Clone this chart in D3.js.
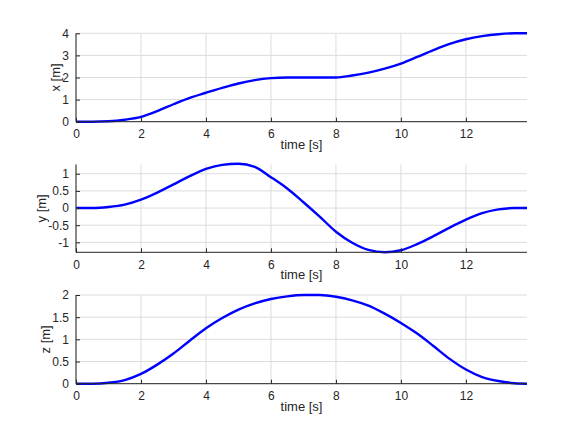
<!DOCTYPE html>
<html>
<head>
<meta charset="utf-8">
<script src="https://cdn.jsdelivr.net/npm/d3@7"></script>
<style>
  body { margin: 0; background: #fff; }
  svg text { font-family: "Liberation Sans", Arial, sans-serif; fill: #262626; }
</style>
</head>
<body>
<svg id="fig" width="583" height="437"></svg>
<script>
// time samples [s]
var time = [0, 0.5, 1, 1.5, 2, 2.5, 3, 3.5, 4, 4.5, 5, 5.5, 6, 6.5, 7, 7.5, 8, 8.5, 9, 9.5, 10, 10.5, 11, 11.5, 12, 12.5, 13, 13.5, 13.88];

// positions [m]
var xPos = [0, 0, 0.02, 0.09, 0.22, 0.48, 0.79, 1.08, 1.31, 1.53, 1.73, 1.88, 1.97, 2.0, 2.0, 2.0, 2.0, 2.09, 2.22, 2.4, 2.63, 2.93, 3.24, 3.52, 3.73, 3.87, 3.96, 4.0, 4.0];
var yPos = [0, 0, 0.03, 0.1, 0.245, 0.45, 0.69, 0.93, 1.14, 1.26, 1.29, 1.2, 0.9, 0.57, 0.17, -0.25, -0.69, -1.01, -1.22, -1.29, -1.23, -1.05, -0.82, -0.57, -0.34, -0.15, -0.04, 0, 0];
var zPos = [0, 0, 0.02, 0.08, 0.22, 0.43, 0.68, 0.97, 1.25, 1.48, 1.67, 1.81, 1.91, 1.97, 2.0, 2.0, 1.96, 1.88, 1.76, 1.58, 1.37, 1.13, 0.85, 0.56, 0.32, 0.15, 0.06, 0.01, 0];

var timeTicks = [0, 2, 4, 6, 8, 10, 12];
var xTicks = [0, 1, 2, 3, 4];
var yTicks = [-1, -0.5, 0, 0.5, 1];
var zTicks = [0, 0.5, 1, 1.5, 2];

var svg = d3.select('#fig');
var left = 76, right = 527;

var panels = [
    { label: 'x [m]', values: xPos, domain: [0, 4], ticks: xTicks, top: 33.3, bottom: 121.7 },
    { label: 'y [m]', values: yPos, domain: [-1.29, 1.27], ticks: yTicks, top: 164.5, bottom: 252.3 },
    { label: 'z [m]', values: zPos, domain: [0, 2], ticks: zTicks, top: 295, bottom: 383.7 }
];

var xScale = d3.scaleLinear().domain([0, 13.88]).range([left, right]);

panels.forEach(function (p) {
    var y = d3.scaleLinear().domain(p.domain).range([p.bottom, p.top]);
    var g = svg.append('g');

    // grid
    g.append('g').selectAll('line').data(timeTicks).enter().append('line')
        .attr('x1', d => xScale(d)).attr('x2', d => xScale(d))
        .attr('y1', p.top).attr('y2', p.bottom)
        .attr('stroke', '#dcdcdc').attr('stroke-width', 1);
    g.append('g').selectAll('line').data(p.ticks).enter().append('line')
        .attr('x1', left).attr('x2', right)
        .attr('y1', d => y(d)).attr('y2', d => y(d))
        .attr('stroke', '#dcdcdc').attr('stroke-width', 1);

    // curve
    var line = d3.line()
        .x((d, i) => xScale(time[i]))
        .y(d => y(d))
        .curve(d3.curveMonotoneX);
    g.append('path')
        .datum(p.values)
        .attr('d', line)
        .attr('fill', 'none')
        .attr('stroke', '#0000ff')
        .attr('stroke-width', 2.4);

    // axes (inward ticks, no box on top/right)
    var ax = g.append('g')
        .attr('transform', 'translate(0,' + p.bottom + ')')
        .call(d3.axisBottom(xScale).tickValues(timeTicks).tickSize(-4).tickPadding(8).tickFormat(d3.format('d')));
    ax.select('.domain').attr('d', 'M' + left + ',0H' + right).attr('stroke', '#262626');
    ax.selectAll('.tick line').attr('stroke', '#262626');
    ax.selectAll('text').attr('font-size', 12).attr('fill', '#262626');

    var ay = g.append('g')
        .attr('transform', 'translate(' + left + ',0)')
        .call(d3.axisLeft(y).tickValues(p.ticks).tickSize(-4).tickPadding(7).tickFormat(d => String(d)));
    ay.select('.domain').attr('d', 'M0,' + p.top + 'V' + p.bottom).attr('stroke', '#262626');
    ay.selectAll('.tick line').attr('stroke', '#262626');
    ay.selectAll('text').attr('font-size', 12).attr('fill', '#262626');

    var maxW = 0;
    ay.selectAll('text').each(function () { maxW = Math.max(maxW, this.getComputedTextLength()); });

    // labels
    g.append('text')
        .attr('x', xScale(6.94)).attr('y', p.bottom + 27)
        .attr('text-anchor', 'middle')
        .attr('font-size', 13)
        .text('time [s]');
    g.append('text')
        .attr('transform', 'translate(' + (left - maxW - 9) + ',' + ((p.top + p.bottom) / 2) + ') rotate(-90)')
        .attr('text-anchor', 'middle')
        .attr('font-size', 13)
        .text(p.label);
});
</script>
</body>
</html>
